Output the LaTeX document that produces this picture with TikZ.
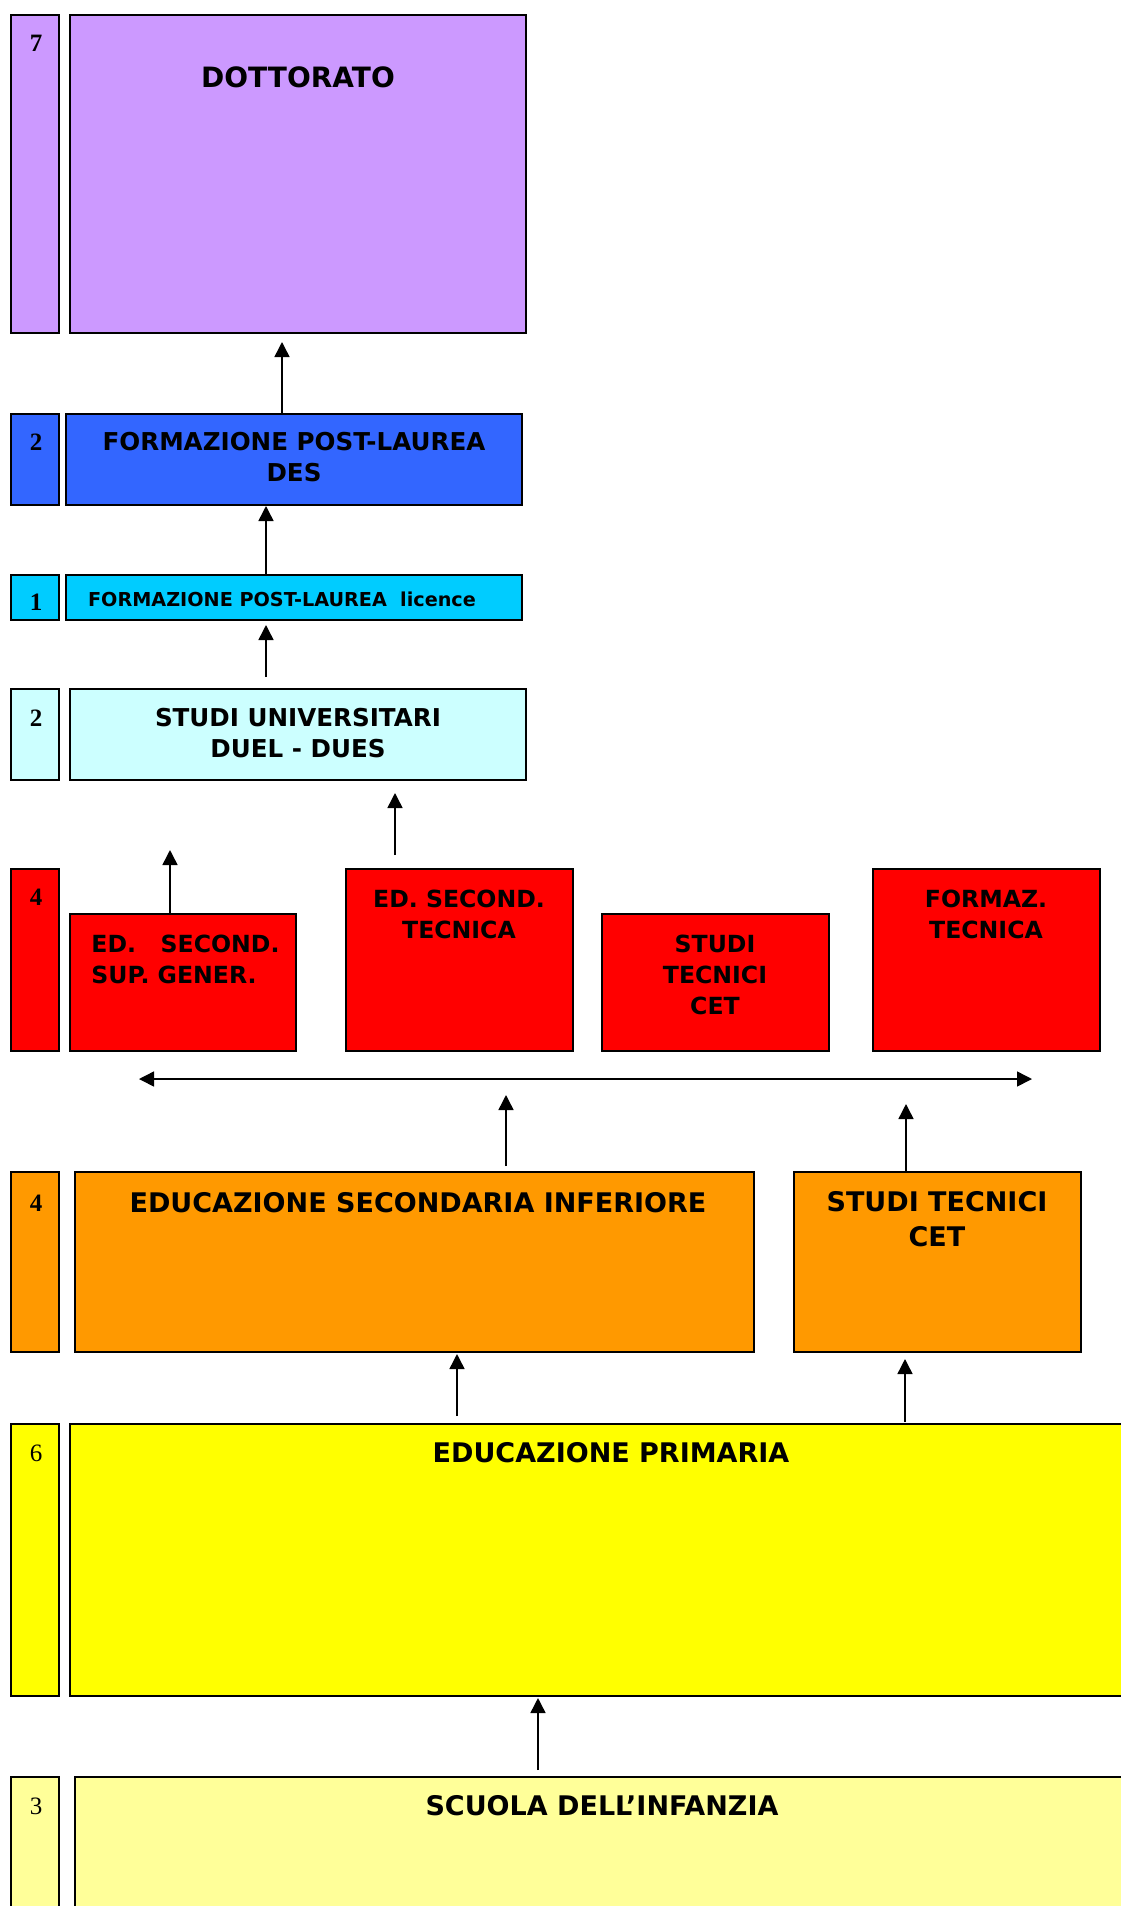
\documentclass[tikz,border=0pt]{standalone}
\usepackage{fontspec}
\setmainfont{DejaVu Sans}
\newfontfamily\numfont{Liberation Serif}
\usetikzlibrary{arrows.meta,fit}
\definecolor{lilla}{HTML}{CC99FF}
\definecolor{blu}{HTML}{3366FF}
\definecolor{celeste}{HTML}{00CCFF}
\definecolor{azzurro}{HTML}{CCFFFF}
\definecolor{rosso}{HTML}{FF0000}
\definecolor{arancio}{HTML}{FF9900}
\definecolor{giallo}{HTML}{FFFF00}
\definecolor{crema}{HTML}{FFFF99}
\tikzset{
  lvl/.style={draw, line width=1pt, inner sep=0pt},
  num/.style={inner sep=0pt, font=\numfont\bfseries\fontsize{12.5}{15}\selectfont},
  ttl/.style={inner sep=0pt, align=center, font=\bfseries\fontsize{13.5}{17.5}\selectfont},
  mid/.style={inner sep=0pt, align=center, font=\bfseries\fontsize{12.3}{15.5}\selectfont},
  sml/.style={inner sep=0pt, font=\bfseries\fontsize{9.6}{12}\selectfont},
  sec/.style={inner sep=0pt, align=center, font=\bfseries\fontsize{11.8}{15.5}\selectfont},
  arr/.style={line width=0.75pt, -{Triangle[length=7.5pt, width=7.5pt]}},
  darr/.style={line width=0.75pt, {Triangle[length=7.5pt, width=7.5pt]}-{Triangle[length=7.5pt, width=7.5pt]}}
}
\begin{document}
\begin{tikzpicture}[x=0.5pt, y=-0.5pt]
\useasboundingbox (0,0) rectangle (1120,1906);

% dottorato
\node [lvl, fill=lilla, fit={(11,15) (59,333)}] (y7) {};
\node [lvl, fill=lilla, fit={(70,15) (526,333)}] (dott) {};
\node [num] (n7) at (36,43) {7};
\node [ttl, font=\bfseries\fontsize{14}{17}\selectfont] (tdott) at (298,77) {DOTTORATO};

% post-laurea
\node [lvl, fill=blu, fit={(11,414) (59,505)}] (y2a) {};
\node [lvl, fill=blu, fit={(66,414) (522,505)}] (des) {};
\node [num] (n2a) at (36,442) {2};
\node [mid] (tdes) at (294,457.5) {FORMAZIONE POST-LAUREA\\DES};

\node [lvl, fill=celeste, fit={(11,575) (59,620)}] (y1) {};
\node [lvl, fill=celeste, fit={(66,575) (522,620)}] (lic) {};
\node [num] (n1) at (36,602) {1};
\node [sml] (tlic) at (282,599) {FORMAZIONE POST-LAUREA\ \ licence};

% universita
\node [lvl, fill=azzurro, fit={(11,689) (59,780)}] (y2b) {};
\node [lvl, fill=azzurro, fit={(70,689) (526,780)}] (univ) {};
\node [num] (n2b) at (36,718) {2};
\node [mid] (tuniv) at (298,733.5) {STUDI UNIVERSITARI\\DUEL - DUES};

% secondaria superiore
\node [lvl, fill=rosso, fit={(11,869) (59,1051)}] (y4a) {};
\node [lvl, fill=rosso, fit={(70,914) (296,1051)}] (sup) {};
\node [lvl, fill=rosso, fit={(346,869) (573,1051)}] (tec) {};
\node [lvl, fill=rosso, fit={(602,914) (829,1051)}] (cet1) {};
\node [lvl, fill=rosso, fit={(873,869) (1100,1051)}] (ftec) {};
\node [num] (n4a) at (36,897) {4};
\node [sec, align=left, anchor=west] (tsup) at (91,959) {ED.\ \ \ SECOND.\\SUP. GENER.};
\node [sec] (ttec) at (459,914.5) {ED. SECOND.\\TECNICA};
\node [sec] (tcet1) at (715,975) {STUDI\\TECNICI\\CET};
\node [sec] (tftec) at (986,914.5) {FORMAZ.\\TECNICA};

% secondaria inferiore
\node [lvl, fill=arancio, fit={(11,1172) (59,1352)}] (y4b) {};
\node [lvl, fill=arancio, fit={(75,1172) (754,1352)}] (esi) {};
\node [lvl, fill=arancio, fit={(794,1172) (1081,1352)}] (cet2) {};
\node [num] (n4b) at (36,1203) {4};
\node [ttl] (tesi) at (418,1203) {EDUCAZIONE SECONDARIA INFERIORE};
\node [ttl] (tcet2) at (937,1219.5) {STUDI TECNICI\\CET};

% primaria e infanzia
\node [lvl, fill=giallo, fit={(11,1424) (59,1696)}] (y6) {};
\node [lvl, fill=giallo, fit={(70,1424) (1140,1696)}] (prim) {};
\node [num, font=\numfont\fontsize{12.5}{15}\selectfont] (n6) at (36,1453) {6};
\node [ttl] (tprim) at (611,1453) {EDUCAZIONE PRIMARIA};

\node [lvl, fill=crema, fit={(11,1777) (59,1930)}] (y3) {};
\node [lvl, fill=crema, fit={(75,1777) (1140,1930)}] (inf) {};
\node [num, font=\numfont\fontsize{12.5}{15}\selectfont] (n3) at (36,1806) {3};
\node [ttl] (tinf) at (602,1806) {SCUOLA DELL’INFANZIA};

% frecce
\coordinate (a1) at (282,342);
\coordinate (a2) at (266,506);
\coordinate (a3s) at (266,677);
\coordinate (a3) at (266,625);
\coordinate (a4s) at (395,855);
\coordinate (a4) at (395,793);
\coordinate (a5) at (170,850);
\coordinate (l) at (139,1079);
\coordinate (r) at (1032,1079);
\coordinate (a7s) at (506,1166);
\coordinate (a7) at (506,1095);
\coordinate (a8) at (906,1104);
\coordinate (a9s) at (457,1416);
\coordinate (a9) at (457,1354);
\coordinate (a10s) at (905,1422);
\coordinate (a10) at (905,1359);
\coordinate (a11s) at (538,1770);
\coordinate (a11) at (538,1698);

\draw [arr] (des.north -| a1) -- (a1);
\draw [arr] (lic.north -| a2) -- (a2);
\draw [arr] (a3s) -- (a3);
\draw [arr] (a4s) -- (a4);
\draw [arr] (sup.north -| a5) -- (a5);
\draw [darr] (l) -- (r);
\draw [arr] (a7s) -- (a7);
\draw [arr] (cet2.north -| a8) -- (a8);
\draw [arr] (a9s) -- (a9);
\draw [arr] (a10s) -- (a10);
\draw [arr] (a11s) -- (a11);

\end{tikzpicture}
\end{document}
